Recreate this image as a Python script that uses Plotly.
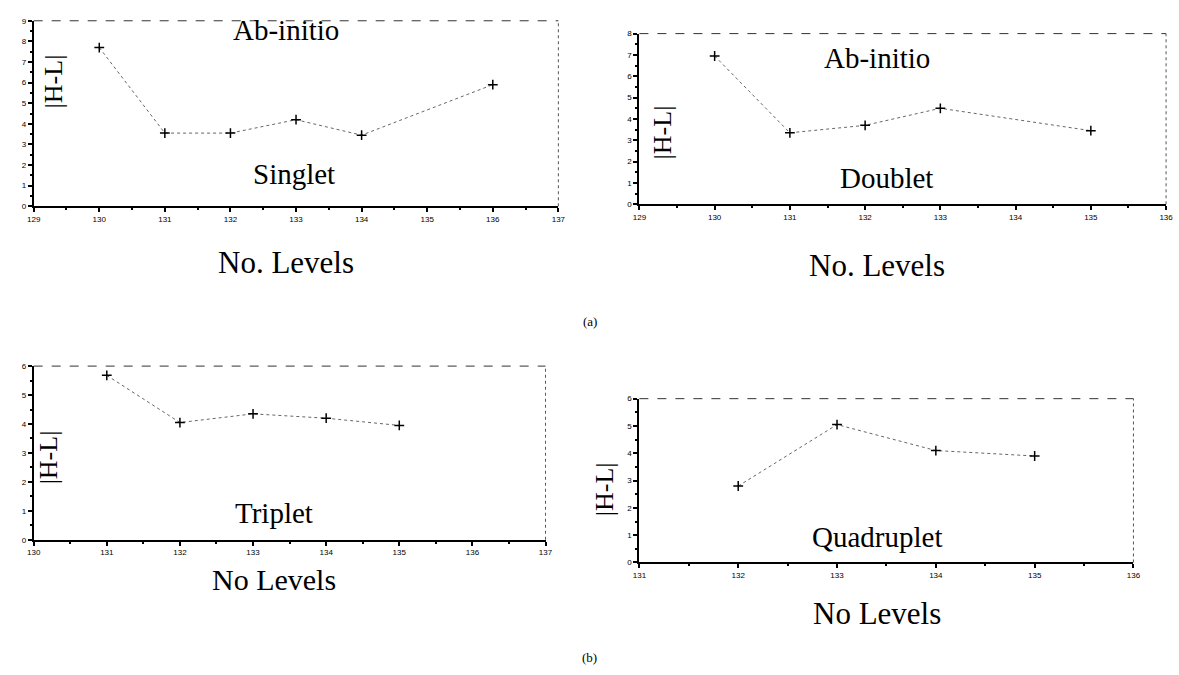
import plotly.graph_objects as go

# Panel data
singlet_x = [130, 131, 132, 133, 134, 136]
singlet_y = [7.7, 3.55, 3.55, 4.2, 3.45, 5.9]
doublet_x = [130, 131, 132, 133, 135]
doublet_y = [6.95, 3.35, 3.7, 4.5, 3.45]
triplet_x = [131, 132, 133, 134, 135]
triplet_y = [5.68, 4.05, 4.35, 4.2, 3.95]
quad_x = [132, 133, 134, 135]
quad_y = [2.8, 5.05, 4.1, 3.9]

p1_xticks = [129, 130, 131, 132, 133, 134, 135, 136, 137]
p2_xticks = [129, 130, 131, 132, 133, 134, 135, 136]
p3_xticks = [130, 131, 132, 133, 134, 135, 136, 137]
p4_xticks = [131, 132, 133, 134, 135, 136]

W, H = 1179, 675
def px(x): return x / W
def py(y): return 1 - y / H

fig = go.Figure()

panels = [
    dict(x=singlet_x, y=singlet_y, xt=p1_xticks, yr=[0, 9], xd=[px(27), px(558)], yd=[py(205), py(17)], n=1),
    dict(x=doublet_x, y=doublet_y, xt=p2_xticks, yr=[0, 8], xd=[px(640), px(1173)], yd=[py(203), py(30)], n=2),
    dict(x=triplet_x, y=triplet_y, xt=p3_xticks, yr=[0, 6], xd=[px(27), px(545)], yd=[py(543), py(367)], n=3),
    dict(x=quad_x, y=quad_y, xt=p4_xticks, yr=[0, 6], xd=[px(640), px(1140)], yd=[py(566), py(400)], n=4),
]

layout = dict(
    width=W, height=H, margin=dict(l=0, r=0, t=0, b=0),
    paper_bgcolor="white", plot_bgcolor="white", showlegend=False,
)

shapes = []
for p in panels:
    n = p["n"]
    xa = "x" if n == 1 else f"x{n}"
    ya = "y" if n == 1 else f"y{n}"
    fig.add_trace(go.Scatter(
        x=p["x"], y=p["y"], xaxis=xa, yaxis=ya, mode="lines+markers",
        line=dict(color="#666666", width=1, dash="dot"),
        marker=dict(symbol="cross-thin", size=7, line=dict(color="black", width=1.5)),
    ))
    axkw = dict(showgrid=False, zeroline=False, showline=True, linecolor="black", linewidth=2,
                mirror=False, ticks="outside", ticklen=4, tickcolor="black", tickwidth=1.5,
                tickfont=dict(family="Arial Black, Arial", size=8, color="black"))
    layout[f"xaxis{'' if n == 1 else n}"] = dict(
        domain=p["xd"], anchor=ya, range=[p["xt"][0], p["xt"][-1]],
        tickmode="array", tickvals=p["xt"], ticktext=[str(t) for t in p["xt"]],
        minor=dict(ticks="outside", ticklen=2, tickcolor="black", dtick=0.5, tick0=p["xt"][0]),
        **axkw)
    layout[f"yaxis{'' if n == 1 else n}"] = dict(
        domain=p["yd"], anchor=xa, range=p["yr"], dtick=1,
        minor=dict(ticks="outside", ticklen=2, tickcolor="black", dtick=0.5), **axkw)
    # faint top and right frame
    shapes.append(dict(type="line", xref="paper", yref="paper", x0=p["xd"][0], x1=p["xd"][1],
                       y0=p["yd"][1], y1=p["yd"][1], line=dict(color="#333333", width=1, dash="dash")))
    shapes.append(dict(type="line", xref="paper", yref="paper", x0=p["xd"][1], x1=p["xd"][1],
                       y0=p["yd"][0], y1=p["yd"][1], line=dict(color="#555555", width=1, dash="dot")))

layout["shapes"] = shapes
fig.update_layout(**layout)

serif = "Liberation Serif, Times New Roman, serif"
def txt(x, y, s, size, angle=0):
    fig.add_annotation(x=px(x), y=py(y), xref="paper", yref="paper", text=s, showarrow=False,
                       font=dict(family=serif, size=size, color="black"), textangle=angle,
                       xanchor="center", yanchor="middle")

txt(282, 26, "Ab-initio", 29)
txt(290, 172, "Singlet", 29)
txt(48, 78, "|H-L|", 26, -90)
txt(282, 262, "No. Levels", 31)

txt(880, 55, "Ab-initio", 29)
txt(890, 176, "Doublet", 29)
txt(663, 130, "|H-L|", 26, -90)
txt(880, 265, "No. Levels", 31)

txt(590, 322, "(a)", 13)

txt(270, 516, "Triplet", 29)
txt(42, 460, "|H-L|", 26, -90)
txt(270, 583, "No Levels", 30)

txt(880, 540, "Quadruplet", 29)
txt(605, 492, "|H-L|", 26, -90)
txt(880, 618, "No Levels", 31)

txt(590, 662, "(b)", 13)

fig.write_html("out.html")
